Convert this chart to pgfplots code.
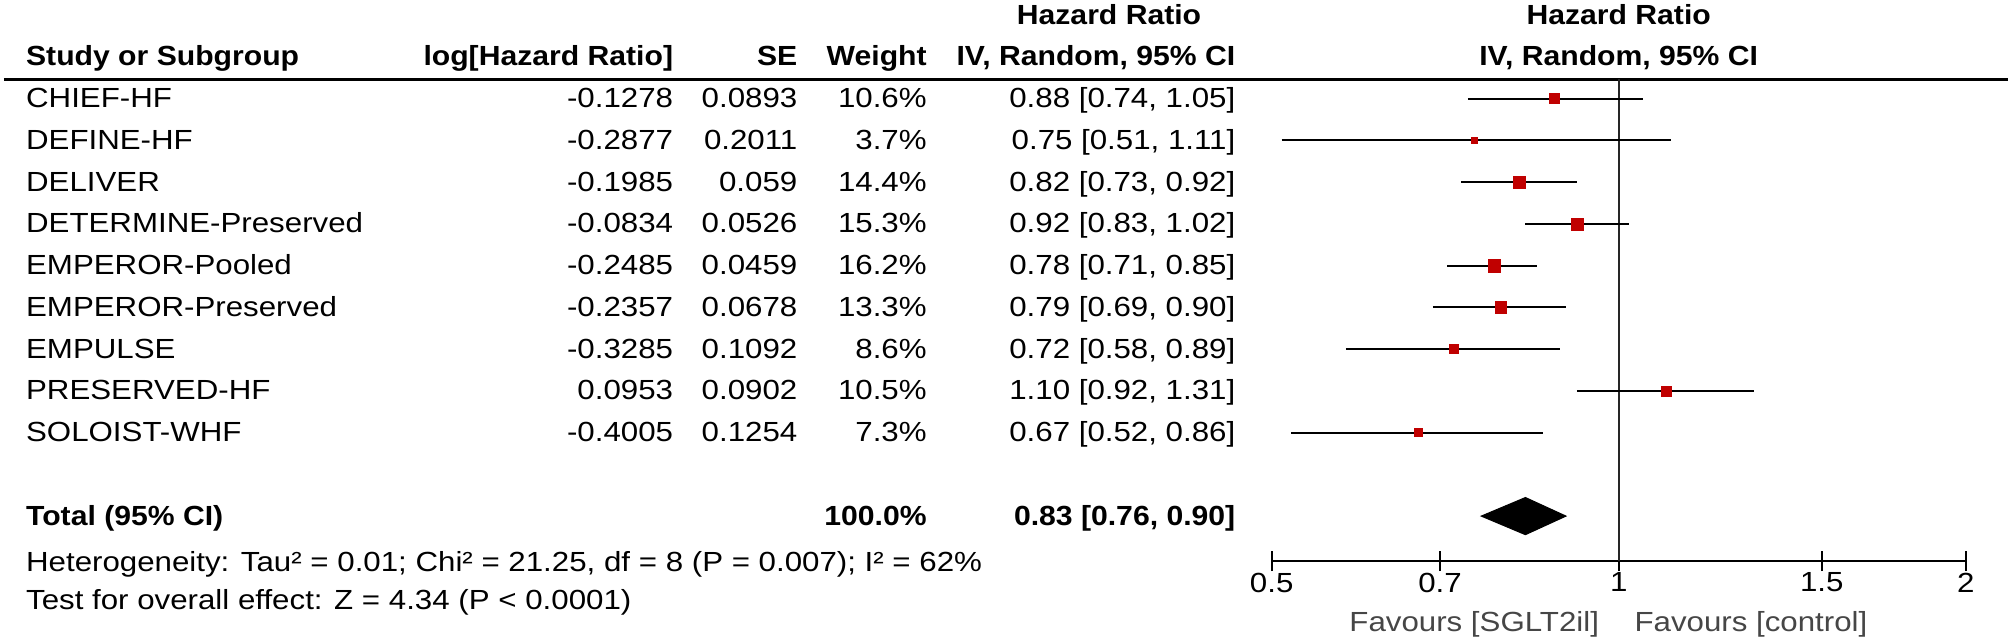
\documentclass[border=0pt]{standalone}
\usepackage{fontspec}
\setmainfont{Liberation Sans}[FakeStretch=1.13, BoldFeatures={FakeStretch=1.09}]
\usepackage{pgfplots}
\pgfplotsset{compat=1.18}
\definecolor{hrred}{RGB}{192,0,0}
\definecolor{favgray}{RGB}{70,70,70}

\begin{document}
\fontsize{10.8}{13}\selectfont
\begin{tikzpicture}[x=0.5pt,y=0.5pt]
\path[use as bounding box] (0,0) rectangle (1568,500);

% column headers
\begin{scope}[every node/.style={inner sep=0pt, font=\bfseries}]
\node[anchor=base] at (866,481) {Hazard Ratio};
\node[anchor=base] at (1264,481) {Hazard Ratio};
\node[anchor=base west] at (20,449) {Study or Subgroup};
\node[anchor=base east] at (526,449) {log[Hazard Ratio]};
\node[anchor=base east] at (623,449) {SE};
\node[anchor=base east] at (724,449) {Weight};
\node[anchor=base east] at (965,449) {IV, Random, 95\% CI};
\node[anchor=base] at (1264,449) {IV, Random, 95\% CI};
\end{scope}
\draw[line width=1pt] (3,438) -- (1568,438);

% study rows
\begin{scope}[every node/.style={inner sep=0pt}]
\foreach \yb/\nm/\lh/\se/\wt/\ci in {
  416/CHIEF-HF/-0.1278/0.0893/10.6/{0.88 [0.74, 1.05]},
  383.4/DEFINE-HF/-0.2877/0.2011/3.7/{0.75 [0.51, 1.11]},
  350.8/DELIVER/-0.1985/0.059/14.4/{0.82 [0.73, 0.92]},
  318.2/DETERMINE-Preserved/-0.0834/0.0526/15.3/{0.92 [0.83, 1.02]},
  285.6/EMPEROR-Pooled/-0.2485/0.0459/16.2/{0.78 [0.71, 0.85]},
  253/EMPEROR-Preserved/-0.2357/0.0678/13.3/{0.79 [0.69, 0.90]},
  220.4/EMPULSE/-0.3285/0.1092/8.6/{0.72 [0.58, 0.89]},
  187.8/PRESERVED-HF/0.0953/0.0902/10.5/{1.10 [0.92, 1.31]},
  155.2/SOLOIST-WHF/-0.4005/0.1254/7.3/{0.67 [0.52, 0.86]}} {
  \node[anchor=base west] at (20,\yb) {\nm};
  \node[anchor=base east] at (526,\yb) {\lh};
  \node[anchor=base east] at (623,\yb) {\se};
  \node[anchor=base east] at (724,\yb) {\wt\%};
  \node[anchor=base east] at (965,\yb) {\ci};
}
\node[anchor=base west, font=\bfseries] at (20,90) {Total (95\% CI)};
\node[anchor=base east, font=\bfseries] at (724,90) {100.0\%};
\node[anchor=base east, font=\bfseries] at (965,90) {0.83 [0.76, 0.90]};
\node[anchor=base west] at (20,54) {Heterogeneity: Tau² = 0.01; Chi² = 21.25, df = 8 (P = 0.007); I² = 62\%};
\node[anchor=base west] at (20,24) {Test for overall effect: Z = 4.34 (P < 0.0001)};
\node[anchor=base east, text=favgray] at (1249,7) {Favours [SGLT2il]};
\node[anchor=base west, text=favgray] at (1276,7) {Favours [control]};
\end{scope}

\begin{axis}[
    at={(496.5pt,31pt)}, anchor=south west,
    width=271pt, height=188pt, scale only axis,
    xmode=log, xmin=0.5, xmax=2, ymin=62, ymax=438,
    axis x line*=bottom, axis y line=none,
    xtick={0.5,0.7,1,1.5,2}, xticklabels={0.5,0.7,1,1.5,2},
    xminorticks=false,
    major tick length=8pt, tick align=center, xtick align=center,
    every tick/.style={black, line width=0.8pt},
    axis line style={line width=0.8pt},
    xticklabel style={inner sep=0pt, anchor=north, yshift=-0.5pt},
    clip=false,
]
% line of no effect
\addplot[black!85, line width=0.8pt] coordinates {(1,62) (1,438)};

% confidence intervals
\addplot[black, line width=0.8pt, unbounded coords=jump] coordinates {
  (0.74,423) (1.05,423) (nan,nan)
  (0.51,390.4) (1.11,390.4) (nan,nan)
  (0.73,357.8) (0.92,357.8) (nan,nan)
  (0.83,325.2) (1.02,325.2) (nan,nan)
  (0.71,292.6) (0.85,292.6) (nan,nan)
  (0.69,260) (0.90,260) (nan,nan)
  (0.58,227.4) (0.89,227.4) (nan,nan)
  (0.92,194.8) (1.31,194.8) (nan,nan)
  (0.52,162.2) (0.86,162.2)};

% point estimates, square size by weight
\pgfplotsset{sq/.style={only marks, mark=square*, mark options={fill=hrred, draw=hrred, line width=0.2pt}}}
\addplot[sq, mark size=1.95pt] coordinates {(0.880,423)};
\addplot[sq, mark size=1.15pt] coordinates {(0.750,390.4)};
\addplot[sq, mark size=2.28pt] coordinates {(0.820,357.8)};
\addplot[sq, mark size=2.35pt] coordinates {(0.920,325.2)};
\addplot[sq, mark size=2.42pt] coordinates {(0.780,292.6)};
\addplot[sq, mark size=2.19pt] coordinates {(0.790,260)};
\addplot[sq, mark size=1.76pt] coordinates {(0.720,227.4)};
\addplot[sq, mark size=1.94pt] coordinates {(1.100,194.8)};
\addplot[sq, mark size=1.62pt] coordinates {(0.670,162.2)};

% pooled estimate
\addplot[fill=black, draw=black] coordinates {(0.76,97) (0.83,111.5) (0.90,97) (0.83,82.5)} -- cycle;
\end{axis}
\end{tikzpicture}
\end{document}
